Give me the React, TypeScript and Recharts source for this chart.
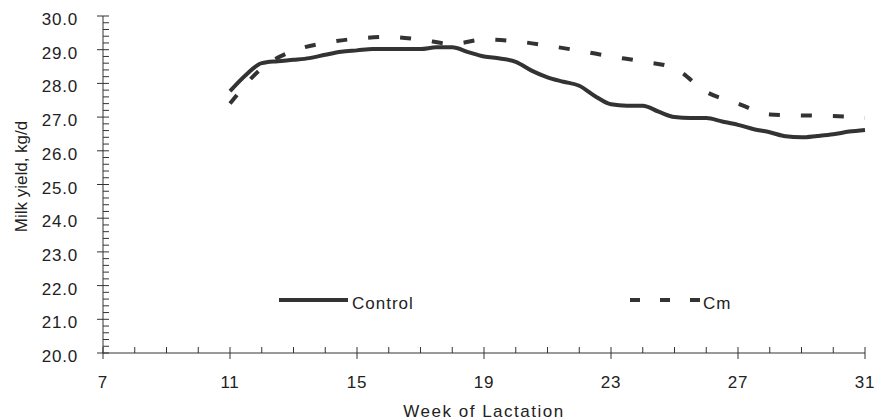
import { LineChart, Line, XAxis, YAxis } from 'recharts';

// Control: read at half-week steps
const controlWeeks = [
  11, 11.5, 12, 12.5, 13, 13.5, 14, 14.5, 15, 15.5, 16, 16.5, 17, 17.5, 18, 18.5, 19, 19.5, 20, 20.5,
  21, 21.5, 22, 22.5, 23, 23.5, 24, 24.5, 25, 25.5, 26, 26.5, 27, 27.5, 28, 28.5, 29, 29.5, 30, 30.5, 31,
];
const controlYield = [
  27.77, 28.25, 28.6, 28.66, 28.7, 28.75, 28.85, 28.94, 28.98, 29.02, 29.02, 29.02, 29.02, 29.07, 29.07,
  28.93, 28.8, 28.74, 28.64, 28.38, 28.18, 28.05, 27.93, 27.62, 27.38, 27.34, 27.34, 27.16, 27.0, 26.97,
  26.97, 26.87, 26.77, 26.64, 26.55, 26.43, 26.4, 26.44, 26.49, 26.57, 26.62,
];

// Cm: weekly
const cmWeeks = [11, 12, 13, 14, 15, 16, 17, 18, 19, 20, 21, 22, 23, 24, 25, 26, 27, 28, 29, 30, 31];
const cmYield = [
  27.4, 28.45, 28.97, 29.2, 29.33, 29.38, 29.3, 29.17, 29.3, 29.25, 29.12, 28.97, 28.8, 28.65, 28.45,
  27.75, 27.4, 27.08, 27.05, 27.03, 26.98,
];

const weekTicks = [7, 8, 9, 10, 11, 12, 13, 14, 15, 16, 17, 18, 19, 20, 21, 22, 23, 24, 25, 26, 27, 28, 29, 30, 31];
const weekLabels = [7, 11, 15, 19, 23, 27, 31];
const yieldLabels = [20, 21, 22, 23, 24, 25, 26, 27, 28, 29, 30];

// minor y ticks every 0.2 between the labelled ones
const yieldTicks: number[] = [];
yieldLabels.forEach((v, i) => {
  yieldTicks.push(v);
  if (i < yieldLabels.length - 1) {
    for (let k = 1; k < 5; k++) yieldTicks.push(Math.round((v + k * 0.2) * 10) / 10);
  }
});

const controlData = controlWeeks.map((w, i) => ({ week: w, value: controlYield[i] }));
const cmData = cmWeeks.map((w, i) => ({ week: w, value: cmYield[i] }));

const FONT = '"Liberation Sans", Arial, sans-serif';
const INK = '#333';
const AXIS = '#777';

function WeekTick({ x, y, payload }: any) {
  const major = weekLabels.includes(payload.value);
  return (
    <g>
      <line x1={x} x2={x} y1={y - 6} y2={major ? y + 6 : y} stroke={INK} strokeWidth={1} />
      {major && (
        <text x={x} y={y + 35} textAnchor="middle" fill="#222" fontSize={17} fontFamily={FONT} letterSpacing={0.8}>
          {payload.value}
        </text>
      )}
    </g>
  );
}

function YieldTick({ x, y, payload }: any) {
  const v = payload.value;
  const major = Math.abs(v - Math.round(v)) < 1e-6;
  return (
    <g>
      <line x1={major ? x - 6 : x} x2={x + 6} y1={y} y2={y} stroke={INK} strokeWidth={1} />
      {major && (
        <text x={x - 25} y={y + 9} textAnchor="end" fill="#222" fontSize={17} fontFamily={FONT} letterSpacing={0.8}>
          {v.toFixed(1)}
        </text>
      )}
    </g>
  );
}

export default function App() {
  return (
    <div style={{ position: 'absolute', left: 0, top: 0, width: 876, height: 420, background: '#fff' }}>
      <LineChart width={876} height={420} margin={{ top: 16, right: 11, bottom: 0, left: 0 }}>
        <XAxis
          type="number"
          dataKey="week"
          domain={[7, 31]}
          ticks={weekTicks}
          interval={0}
          tick={<WeekTick />}
          tickLine={false}
          tickSize={0}
          tickMargin={0}
          height={67}
          axisLine={{ stroke: AXIS, strokeWidth: 1.5 }}
          label={{
            content: ({ viewBox }: any) => (
              <text
                x={viewBox.x + viewBox.width / 2}
                y={viewBox.y + 64}
                textAnchor="middle"
                fill="#222"
                fontSize={17}
                fontFamily={FONT}
                letterSpacing={1.5}
              >
                Week of Lactation
              </text>
            ),
          }}
        />
        <YAxis
          type="number"
          domain={[20, 30]}
          ticks={yieldTicks}
          interval={0}
          tick={<YieldTick />}
          tickLine={false}
          tickSize={0}
          tickMargin={0}
          width={103}
          axisLine={{ stroke: AXIS, strokeWidth: 1.5 }}
          label={{
            content: ({ viewBox }: any) => {
              const cx = 27;
              const cy = viewBox.y + viewBox.height / 2 - 8;
              return (
                <text
                  x={cx}
                  y={cy}
                  transform={`rotate(-90, ${cx}, ${cy})`}
                  textAnchor="middle"
                  fill="#222"
                  fontSize={17}
                  fontFamily={FONT}
                >
                  Milk yield, kg/d
                </text>
              );
            },
          }}
        />
        <Line
          data={controlData}
          dataKey="value"
          name="Control"
          type="monotone"
          stroke={INK}
          strokeWidth={4}
          dot={false}
          isAnimationActive={false}
        />
        <Line
          data={cmData}
          dataKey="value"
          name="Cm"
          type="monotone"
          stroke={INK}
          strokeWidth={4}
          strokeDasharray="11 21"
          dot={false}
          isAnimationActive={false}
        />
      </LineChart>
      <svg width={876} height={420} style={{ position: 'absolute', left: 0, top: 0, pointerEvents: 'none' }}>
        <line x1={279} x2={348} y1={300} y2={300} stroke={INK} strokeWidth={4} />
        <text x={352} y={309} fill="#222" fontSize={17} fontFamily={FONT} letterSpacing={1}>
          Control
        </text>
        <line x1={630} x2={700} y1={300} y2={300} stroke={INK} strokeWidth={4} strokeDasharray="10 20" />
        <text x={703} y={309} fill="#222" fontSize={17} fontFamily={FONT} letterSpacing={1}>
          Cm
        </text>
      </svg>
    </div>
  );
}
